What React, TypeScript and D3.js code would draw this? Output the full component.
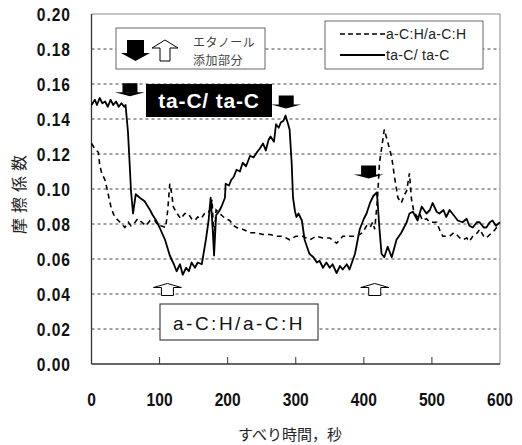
import React, { useEffect, useRef } from "react";
import * as d3 from "d3";

// sliding time (s) and friction coefficient
const taCTime = [0, 5, 8, 12, 16, 20, 24, 28, 32, 36, 40, 44, 48, 50, 53.5, 55.7, 58, 61, 65, 71, 78, 86, 90, 95, 100, 108, 115, 121, 125, 130, 134, 139, 143, 147, 152, 156, 162, 168, 172, 175, 178, 180, 183, 187, 191, 196, 197, 202, 205, 209, 213, 218, 222, 227, 233, 238, 243, 247, 252, 256, 260, 263, 268, 271, 275, 278, 282, 285, 288, 291, 294, 296, 299, 301, 304, 309, 313, 320, 326, 331, 335, 340, 345, 350, 354, 360, 365, 369, 375, 379, 387, 394, 400, 404, 409, 414, 419, 420, 423, 426, 430, 435, 441, 448, 455, 463, 467, 472, 479, 485, 492, 497, 501, 507, 511, 517, 521, 526, 530, 538, 545, 551, 555, 560, 566, 570, 576, 580, 585, 589, 594, 600];
const taCMu = [0.148, 0.151, 0.148, 0.152, 0.149, 0.150, 0.147, 0.151, 0.148, 0.150, 0.147, 0.149, 0.147, 0.148, 0.133, 0.117, 0.099, 0.086, 0.097, 0.095, 0.093, 0.088, 0.085, 0.082, 0.078, 0.071, 0.062, 0.057, 0.053, 0.057, 0.051, 0.055, 0.053, 0.058, 0.055, 0.058, 0.057, 0.071, 0.082, 0.095, 0.077, 0.062, 0.085, 0.087, 0.090, 0.095, 0.103, 0.102, 0.105, 0.107, 0.111, 0.110, 0.115, 0.113, 0.119, 0.118, 0.121, 0.123, 0.126, 0.122, 0.128, 0.130, 0.127, 0.137, 0.135, 0.138, 0.139, 0.142, 0.138, 0.134, 0.115, 0.095, 0.087, 0.084, 0.086, 0.082, 0.071, 0.063, 0.061, 0.058, 0.059, 0.055, 0.058, 0.055, 0.057, 0.052, 0.056, 0.054, 0.057, 0.054, 0.063, 0.077, 0.083, 0.086, 0.092, 0.096, 0.098, 0.094, 0.077, 0.063, 0.061, 0.067, 0.061, 0.071, 0.075, 0.081, 0.086, 0.087, 0.082, 0.090, 0.086, 0.088, 0.092, 0.087, 0.086, 0.088, 0.084, 0.088, 0.086, 0.082, 0.081, 0.083, 0.079, 0.078, 0.081, 0.081, 0.078, 0.078, 0.081, 0.082, 0.079, 0.081];

const aCHTime = [0, 5, 10, 12, 15, 20, 24, 29, 34, 42, 49, 54, 58, 64, 68, 74, 80, 86, 93, 98, 102, 109, 112, 115, 118, 120, 124, 131, 137, 142, 147, 152, 156, 161, 166, 171, 175, 177, 180, 183, 186, 191, 197, 203, 209, 213, 222, 233, 241, 252, 262, 272, 281, 291, 300, 310, 321, 330, 340, 350, 360, 369, 379, 389, 398, 404, 409, 413, 416, 420, 423, 426, 430, 435, 441, 445, 450, 455, 460, 463, 467, 470, 473, 478, 482, 486, 492, 497, 503, 507, 511, 516, 521, 526, 532, 536, 541, 545, 551, 555, 560, 563, 567, 570, 576, 580, 585, 589, 595, 600];
const aCHMu = [0.126, 0.123, 0.121, 0.114, 0.109, 0.105, 0.098, 0.089, 0.084, 0.081, 0.078, 0.081, 0.079, 0.081, 0.083, 0.081, 0.079, 0.082, 0.082, 0.079, 0.079, 0.078, 0.088, 0.103, 0.097, 0.090, 0.087, 0.083, 0.086, 0.086, 0.083, 0.082, 0.084, 0.083, 0.086, 0.086, 0.089, 0.094, 0.071, 0.088, 0.087, 0.085, 0.083, 0.082, 0.079, 0.078, 0.077, 0.075, 0.075, 0.074, 0.074, 0.073, 0.073, 0.071, 0.073, 0.073, 0.071, 0.073, 0.072, 0.072, 0.069, 0.073, 0.073, 0.073, 0.075, 0.079, 0.078, 0.081, 0.077, 0.094, 0.115, 0.123, 0.134, 0.127, 0.118, 0.107, 0.095, 0.092, 0.097, 0.099, 0.109, 0.094, 0.088, 0.084, 0.086, 0.082, 0.083, 0.081, 0.081, 0.081, 0.077, 0.073, 0.073, 0.073, 0.075, 0.074, 0.072, 0.071, 0.072, 0.070, 0.073, 0.074, 0.075, 0.077, 0.073, 0.072, 0.074, 0.075, 0.078, 0.077];

const xTicks = [0, 100, 200, 300, 400, 500, 600];
const yTicks = [0, 0.02, 0.04, 0.06, 0.08, 0.1, 0.12, 0.14, 0.16, 0.18, 0.2];

// ethanol added (black) / stopped (hollow) markers
const dropTime = [56.5, 286, 407];
const dropMu = [0.153, 0.146, 0.106];
const riseTime = [111.5, 416];
const riseMu = [0.046];

export default function App() {
  const ref = useRef<SVGSVGElement>(null);

  useEffect(() => {
    const svg = d3.select(ref.current);
    svg.selectAll("*").remove();

    const left = 91.5, right = 500, top = 14, bottom = 364;
    const x = d3.scaleLinear().domain([0, 600]).range([left, right]);
    const y = d3.scaleLinear().domain([0, 0.2]).range([bottom, top]);
    const sans = "'Liberation Sans', Arial, sans-serif";
    const jp = "'Noto Sans CJK JP', sans-serif";

    svg.append("rect").attr("x", 0).attr("y", 0).attr("width", 522).attr("height", 445).attr("fill", "#fff");

    // grid
    svg.append("g").selectAll("line").data(yTicks.slice(1, -1)).join("line")
      .attr("x1", left).attr("x2", right)
      .attr("y1", (d) => y(d)).attr("y2", (d) => y(d))
      .attr("stroke", "#444").attr("stroke-width", 1).attr("stroke-dasharray", "3,3");

    // frame
    svg.append("line").attr("x1", left).attr("x2", right).attr("y1", top).attr("y2", top).attr("stroke", "#888");
    svg.append("line").attr("x1", right).attr("x2", right).attr("y1", top).attr("y2", bottom).attr("stroke", "#888");
    svg.append("line").attr("x1", left).attr("x2", left).attr("y1", top).attr("y2", bottom).attr("stroke", "#333").attr("stroke-width", 1.3);
    svg.append("line").attr("x1", left).attr("x2", right).attr("y1", bottom).attr("y2", bottom).attr("stroke", "#333").attr("stroke-width", 1.3);

    // x ticks pointing inward
    svg.append("g").selectAll("line").data(xTicks.slice(1, -1)).join("line")
      .attr("x1", (d) => x(d)).attr("x2", (d) => x(d))
      .attr("y1", bottom).attr("y2", bottom - 7).attr("stroke", "#333");

    // tick labels, squeezed horizontally like the condensed face in the original
    svg.append("g").selectAll("text").data(xTicks).join("text")
      .attr("transform", (d) => `translate(${x(d)},406) scale(0.82,1)`)
      .attr("text-anchor", "middle").attr("font-family", sans).attr("font-weight", "bold")
      .attr("font-size", 19).attr("fill", "#111").text((d) => d);
    svg.append("g").selectAll("text").data(yTicks).join("text")
      .attr("transform", (d) => `translate(71,${y(d) + 6.5}) scale(0.82,1)`)
      .attr("text-anchor", "end").attr("font-family", sans).attr("font-weight", "bold")
      .attr("font-size", 19).attr("letter-spacing", 1.2).attr("fill", "#111").text((d) => d.toFixed(2));

    // axis titles
    svg.append("text").attr("x", 290).attr("y", 440).attr("text-anchor", "middle")
      .attr("font-family", jp).attr("font-size", 15).attr("fill", "#222").text("すべり時間，秒");
    svg.append("text").attr("transform", "translate(25,192) rotate(-90)").attr("text-anchor", "middle")
      .attr("font-family", jp).attr("font-size", 16).attr("letter-spacing", 5).attr("fill", "#222").text("摩擦係数");

    // curves
    const line = d3.line<[number, number]>().x((d) => x(d[0])).y((d) => y(d[1]));
    const taC = taCTime.map((t, i) => [t, taCMu[i]] as [number, number]);
    const aCH = aCHTime.map((t, i) => [t, aCHMu[i]] as [number, number]);
    svg.append("path").attr("d", line(aCH)).attr("fill", "none").attr("stroke", "#000")
      .attr("stroke-width", 1.6).attr("stroke-dasharray", "5,4");
    svg.append("path").attr("d", line(taC)).attr("fill", "none").attr("stroke", "#000")
      .attr("stroke-width", 1.8).attr("stroke-linejoin", "round");

    // black "hat" markers (tip at data point)
    const drop = (g: any, cx: number, tip: number, bw: number, bh: number, tw: number, th: number) => {
      g.append("rect").attr("x", cx - bw / 2).attr("y", tip - th - bh).attr("width", bw).attr("height", bh + 0.5).attr("fill", "#000");
      g.append("path").attr("d", `M${cx - tw / 2},${tip - th}L${cx + tw / 2},${tip - th}L${cx},${tip}Z`).attr("fill", "#000");
    };
    const rise = (g: any, cx: number, tip: number, sw: number, sh: number, tw: number, th: number) => {
      g.append("path")
        .attr("d", `M${cx},${tip}L${cx + tw / 2},${tip + th}L${cx + sw / 2},${tip + th}L${cx + sw / 2},${tip + th + sh}L${cx - sw / 2},${tip + th + sh}L${cx - sw / 2},${tip + th}L${cx - tw / 2},${tip + th}Z`)
        .attr("fill", "#fff").attr("stroke", "#000").attr("stroke-width", 1);
    };
    const mk = svg.append("g");
    dropTime.forEach((t, i) => drop(mk, x(t), y(dropMu[i]), 15, 9, 30, 4));
    riseTime.forEach((t) => rise(mk, x(t), y(riseMu[0]), 12, 8, 28, 4));

    // ethanol legend box
    const eb = svg.append("g");
    eb.append("rect").attr("x", 116).attr("y", 28).attr("width", 149).attr("height", 41)
      .attr("fill", "#fff").attr("stroke", "#666");
    drop(eb, 135.5, 61, 17, 13, 29, 8);
    rise(eb, 165, 40, 10, 13, 26, 8);
    eb.append("text").attr("x", 193).attr("y", 47).attr("font-family", jp).attr("font-size", 12)
      .attr("letter-spacing", 0.5).attr("fill", "#444").text("エタノール");
    eb.append("text").attr("x", 193).attr("y", 65).attr("font-family", jp).attr("font-size", 12)
      .attr("letter-spacing", 0.5).attr("fill", "#444").text("添加部分");

    // series legend
    const lg = svg.append("g");
    lg.append("rect").attr("x", 325).attr("y", 21).attr("width", 158).attr("height", 48)
      .attr("fill", "#fff").attr("stroke", "#666");
    lg.append("line").attr("x1", 340).attr("x2", 385).attr("y1", 34).attr("y2", 34)
      .attr("stroke", "#000").attr("stroke-width", 1.3).attr("stroke-dasharray", "5,3");
    lg.append("line").attr("x1", 340).attr("x2", 385).attr("y1", 55).attr("y2", 55)
      .attr("stroke", "#000").attr("stroke-width", 1.8);
    lg.append("text").attr("x", 386).attr("y", 39).attr("font-family", sans).attr("font-size", 14)
      .attr("letter-spacing", 0.3).attr("fill", "#222").text("a-C:H/a-C:H");
    lg.append("text").attr("x", 386).attr("y", 60).attr("font-family", sans).attr("font-size", 14)
      .attr("letter-spacing", 0.3).attr("fill", "#222").text("ta-C/ ta-C");

    // series tags
    svg.append("rect").attr("x", 146).attr("y", 84).attr("width", 126).attr("height", 33).attr("fill", "#000");
    svg.append("text").attr("x", 209).attr("y", 108).attr("text-anchor", "middle").attr("font-family", sans)
      .attr("font-weight", "bold").attr("font-size", 21).attr("letter-spacing", 0.8).attr("fill", "#fff").text("ta-C/ ta-C");
    svg.append("rect").attr("x", 160).attr("y", 304).attr("width", 158).attr("height", 36)
      .attr("fill", "#fff").attr("stroke", "#444").attr("stroke-width", 1.2);
    svg.append("text").attr("x", 239).attr("y", 330).attr("text-anchor", "middle").attr("font-family", sans)
      .attr("font-size", 19).attr("letter-spacing", 2.5).attr("fill", "#111").text("a-C:H/a-C:H");
  }, []);

  return (
    <svg ref={ref} width={522} height={445} style={{ position: "absolute", left: 0, top: 0 }} />
  );
}
